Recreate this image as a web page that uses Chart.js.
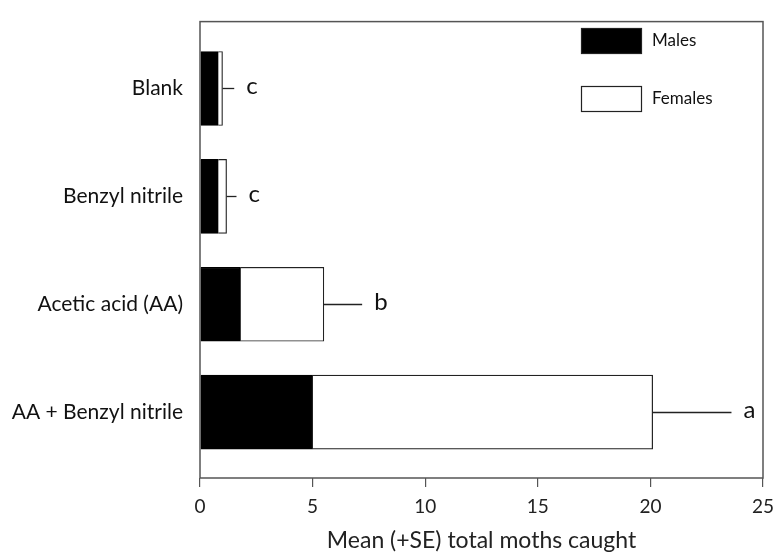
<!DOCTYPE html>
<html><head><meta charset="utf-8">
<script src="https://cdn.jsdelivr.net/npm/chart.js@4/dist/chart.umd.min.js"></script>
<style>html,body{margin:0;padding:0;background:#fff}#wrap{width:775px;height:554px}</style>
</head><body><div id="wrap"><canvas id="c" width="775" height="554"></canvas></div>
<script>
const categories = ["Blank", "Benzyl nitrile", "Acetic acid (AA)", "AA + Benzyl nitrile"];
const males = [0.81, 0.81, 1.8, 5.0];
const females = [0.19, 0.37, 3.7, 15.1];
const se = [0.52, 0.44, 1.7, 3.5];
const letters = ["c", "c", "b", "a"];
const xTicks = [0, 5, 10, 15, 20, 25];
const FONT = "Lato, 'Open Sans', sans-serif";

const framePlugin = {
  id: 'frame',
  afterDatasetsDraw(chart) {
    const {ctx, chartArea: a, scales: {x, y}} = chart;
    ctx.save();
    ctx.strokeStyle = '#222'; ctx.lineWidth = 1.3;
    ctx.fillStyle = '#111';
    ctx.font = "24px " + FONT; ctx.textAlign = 'left'; ctx.textBaseline = 'middle';
    categories.forEach((c, i) => {
      const tot = males[i] + females[i];
      const x0 = x.getPixelForValue(tot), x1 = x.getPixelForValue(tot + se[i]);
      const py = Math.round(y.getPixelForValue(i)) + 0.5;
      ctx.beginPath(); ctx.moveTo(x0, py); ctx.lineTo(x1, py); ctx.stroke();
      ctx.fillText(letters[i], x1 + 12, py - 2);
    });
    ctx.strokeStyle = '#555'; ctx.lineWidth = 1.5;
    ctx.strokeRect(a.left, a.top, a.right - a.left, a.bottom - a.top);
    const lx = a.right - 182;
    const items = [[chart.data.datasets[0], 28], [chart.data.datasets[1], 86]];
    ctx.font = "17px " + FONT;
    items.forEach(([ds, ty]) => {
      ctx.fillStyle = ds.backgroundColor;
      ctx.fillRect(lx, ty, 60, 25);
      ctx.strokeStyle = '#222'; ctx.lineWidth = 1.2;
      ctx.strokeRect(lx + 0.5, ty + 0.5, 60, 25);
      ctx.fillStyle = '#111';
      ctx.fillText(ds.label, lx + 71, ty + 13);
    });
    ctx.restore();
  }
};

new Chart(document.getElementById('c'), {
  type: 'bar',
  data: {
    datasets: [
      { label: 'Males', data: males.map((v, i) => ({x: v, y: i})), backgroundColor: '#000000', borderColor: '#000000', borderWidth: 1.2, barThickness: 74 },
      { label: 'Females', data: females.map((v, i) => ({x: v, y: i})), backgroundColor: '#ffffff', borderColor: '#222222', borderWidth: 1.2, barThickness: 74 }
    ]
  },
  options: {
    indexAxis: 'y',
    responsive: false,
    animation: false,
    layout: { padding: { top: 8, right: 12, left: 0, bottom: 0 } },
    plugins: { legend: { display: false }, tooltip: { enabled: false } },
    scales: {
      x: {
        type: 'linear', min: 0, max: 25, stacked: true,
        afterBuildTicks: s => { s.ticks = xTicks.map(v => ({value: v})); },
        afterFit: s => { s.height = 76; s.paddingLeft = 0; s.paddingRight = 0; },
        grid: { display: true, drawOnChartArea: false, drawTicks: true, tickLength: 9, color: '#555', lineWidth: 1.2 },
        border: { display: false },
        ticks: { color: '#222', font: { family: FONT, size: 19 }, padding: 8, maxRotation: 0 },
        title: { display: true, text: 'Mean (+SE) total moths caught', color: '#222', font: { family: FONT, size: 23 }, padding: { top: 4, bottom: 0 } }
      },
      y: {
        type: 'linear', min: -0.62, max: 3.61, reverse: true, stacked: true, offset: false,
        afterBuildTicks: s => { s.ticks = categories.map((c, i) => ({value: i})); },
        afterFit: s => { s.width = 200; },
        grid: { display: false, offset: false },
        border: { display: false },
        ticks: { color: '#111', font: { family: FONT, size: 21 }, padding: 9, autoSkip: false, callback: v => categories[v] }
      }
    }
  },
  plugins: [framePlugin]
});
</script></body></html>
